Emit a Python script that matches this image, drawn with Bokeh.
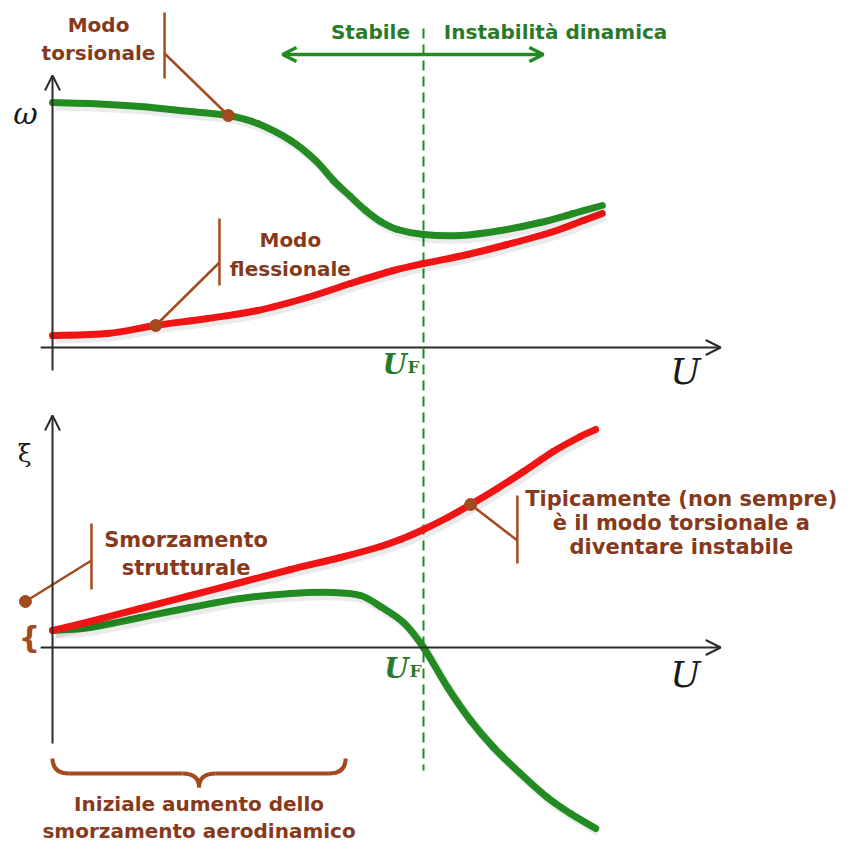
import numpy as np
from bokeh.plotting import figure
from bokeh.models import Range1d, Arrow, OpenHead
from bokeh.core.properties import value
from bokeh.embed import file_html
from bokeh.resources import INLINE

# ---------------------------------------------------------------
# Flutter diagram: frequencies (top) and damping (bottom) vs wind
# speed U, with U normalised so that the flutter speed U_F = 1.
# ---------------------------------------------------------------
U_F = 1.0

# top panel: natural circular frequency omega of the two modes
u_tors = [0.000, 0.102, 0.237, 0.372, 0.474, 0.553, 0.642, 0.709, 0.757, 0.803,
          0.844, 0.884, 0.930, 1.000, 1.100, 1.208, 1.315, 1.404, 1.482]
w_tors = [2.45, 2.44, 2.41, 2.36, 2.32, 2.24, 2.07, 1.87, 1.67, 1.51,
          1.37, 1.26, 1.18, 1.13, 1.12, 1.17, 1.25, 1.34, 1.42]

u_flex = [0.000, 0.148, 0.278, 0.418, 0.553, 0.687, 0.803, 0.919, 1.000,
          1.119, 1.226, 1.342, 1.431, 1.482]
w_flex = [0.12, 0.14, 0.22, 0.29, 0.37, 0.50, 0.64, 0.77, 0.84,
          0.93, 1.03, 1.15, 1.27, 1.34]

# bottom panel: damping ratio xi of the two branches
u_xi_red = [0.000, 0.102, 0.237, 0.372, 0.507, 0.642, 0.776, 0.884, 0.938,
            1.000, 1.065, 1.127, 1.199, 1.270, 1.350, 1.423, 1.464]
xi_red = [0.17, 0.26, 0.39, 0.52, 0.65, 0.78, 0.90, 1.01, 1.08,
          1.18, 1.30, 1.43, 1.59, 1.76, 1.96, 2.11, 2.18]

u_xi_green = [0.000, 0.102, 0.237, 0.372, 0.507, 0.642, 0.757, 0.830, 0.884,
              0.946, 1.000, 1.065, 1.127, 1.189, 1.261, 1.334, 1.396, 1.464]
xi_green = [0.17, 0.20, 0.30, 0.40, 0.49, 0.54, 0.55, 0.52, 0.41,
            0.25, 0.00, -0.40, -0.73, -1.00, -1.26, -1.50, -1.66, -1.81]

# ---------------------------------------------------------------
GREEN = "#228b22"
RED = "#f01414"
BROWN_TXT = "#863a1c"
BROWN = "#a34a1f"
GREEN_TXT = "#2a7a2a"
AXIS = "#2b2b2b"
SANS = value("DejaVu Sans")
SERIF = value("DejaVu Serif")

p = figure(width=851, height=849,
           x_range=Range1d(-0.1402, 2.1536), y_range=Range1d(-5.02, 3.47),
           output_backend="svg", toolbar_location=None,
           x_axis_location=None, y_axis_location=None, min_border=0)
p.extra_y_ranges = {"xi": Range1d(-2.02, 6.47)}
p.grid.visible = False
p.outline_line_color = None
p.background_fill_color = "white"
p.border_fill_color = "white"


def arrow(x0, y0, x1, y1, rng="default", color=AXIS, width=2, size=15, both=False):
    head = dict(size=size, line_width=width, line_color=color)
    a = Arrow(x_start=x0, y_start=y0, x_end=x1, y_end=y1,
              end=OpenHead(**head), start=OpenHead(**head) if both else None,
              line_color=color, line_width=width, y_range_name=rng)
    p.add_layout(a)


def label(x, y, lines, rng="default", size="20px", color=BROWN_TXT,
          font=SANS, style="bold", align="center", step=0.0):
    ys = [y - i * step for i in range(len(lines))]
    p.text(x=[x] * len(lines), y=ys, text=lines, text_font=font,
           text_font_size=size, text_font_style=style, text_color=color,
           text_align=align, text_baseline="alphabetic", y_range_name=rng)


def smooth_path(u, v, rng, cap="round", **kw):
    """Draw a smooth path through the points (Catmull-Rom as cubic Beziers)."""
    P = np.column_stack([np.asarray(u, float), np.asarray(v, float)])
    Q = np.vstack([P[:1], P, P[-1:]])
    p0, p1, p2, p3 = Q[:-3], Q[1:-2], Q[2:-1], Q[3:]
    c0 = p1 + (p2 - p0) / 6.0
    c1 = p2 - (p3 - p1) / 6.0
    p.bezier(x0=p1[:, 0], y0=p1[:, 1], x1=p2[:, 0], y1=p2[:, 1],
             cx0=c0[:, 0], cy0=c0[:, 1], cx1=c1[:, 0], cy1=c1[:, 1],
             line_cap=cap, y_range_name=rng, **kw)


def curve(u, v, color, rng="default"):
    u = np.asarray(u, float)
    v = np.asarray(v, float)
    # soft drop shadow under each curve (butt caps so pieces do not overlap)
    smooth_path(u + 0.008, v - 0.035, rng, cap="butt", line_width=9,
                line_color="black", line_alpha=0.08)
    smooth_path(u, v, rng, line_width=7, line_color=color)


def leader(xbar, ybar0, ybar1, yjoin, xdot, ydot, rng="default"):
    p.segment(x0=[xbar, xbar], y0=[ybar0, yjoin], x1=[xbar, xdot], y1=[ybar1, ydot],
              line_width=2.5, color=BROWN, y_range_name=rng)
    p.scatter([xdot], [ydot], size=12, color=BROWN, y_range_name=rng)


# ---------------- flutter speed line ----------------
p.segment(x0=[U_F], y0=[3.19], x1=[U_F], y1=[-4.23], line_width=2,
          color=GREEN, line_dash="10 6")

# ---------------- top panel: omega ----------------
arrow(-0.032, 0.0, 1.801, 0.0)
arrow(0.0, -0.23, 0.0, 2.72)
curve(u_flex, w_flex, RED)
curve(u_tors, w_tors, GREEN)

label(-0.073, 2.34, ["ω"], size="30px", color="#1a1a1a", font=SERIF, style="italic")
label(1.706, -0.24, ["U"], size="36px", color="#1a1a1a", font=SERIF, style="italic")
label(0.955, -0.17, ["U"], size="28px", color=GREEN_TXT, font=SERIF,
      style="bold italic", align="right")
label(0.957, -0.19, ["F"], size="17px", color=GREEN_TXT, font=SERIF,
      style="bold", align="left")

# stable / unstable regions
arrow(0.620, 2.93, 1.323, 2.93, color=GREEN, width=3.5, size=14, both=True)
label(0.857, 3.16, ["Stabile"], color=GREEN_TXT)
label(1.356, 3.16, ["Instabilità dinamica"], color=GREEN_TXT)

# mode annotations
i_t = u_tors.index(0.474)
label(0.124, 3.23, ["Modo", "torsionale"], step=0.28)
leader(0.302, 3.35, 2.69, 2.94, u_tors[i_t], w_tors[i_t])

i_f = u_flex.index(0.278)
label(0.641, 1.08, ["Modo", "flessionale"], step=0.29)
leader(0.450, 1.29, 0.62, 0.85, u_flex[i_f], w_flex[i_f])

# ---------------- bottom panel: xi ----------------
arrow(-0.032, 0.0, 1.801, 0.0, rng="xi")
arrow(0.0, -0.96, 0.0, 2.32, rng="xi")
curve(u_xi_green, xi_green, GREEN, rng="xi")
curve(u_xi_red, xi_red, RED, rng="xi")

label(-0.075, 1.94, ["ξ"], rng="xi", size="25px", color="#1a1a1a", font=SERIF,
      style="normal")
label(1.706, -0.27, ["U"], rng="xi", size="36px", color="#1a1a1a", font=SERIF,
      style="italic")
label(0.960, -0.21, ["U"], rng="xi", size="28px", color=GREEN_TXT, font=SERIF,
      style="bold italic", align="right")
label(0.962, -0.23, ["F"], rng="xi", size="17px", color=GREEN_TXT, font=SERIF,
      style="bold", align="left")

# structural damping at U = 0
label(-0.062, 0.10, ["{"], rng="xi", size="30px", color=BROWN, style="bold")
label(0.360, 1.08, ["Smorzamento", "strutturale"], rng="xi", size="21px", step=0.28)
leader(0.105, 1.24, 0.58, 0.87, -0.073, 0.46, rng="xi")

# torsional mode note
i_r = u_xi_red.index(1.127)
label(1.695, 1.49, ["Tipicamente (non sempre)", "è il modo torsionale a",
                    "diventare instabile"], rng="xi", size="21px", step=0.24)
leader(1.253, 1.52, 0.84, 1.07, u_xi_red[i_r], xi_red[i_r], rng="xi")

# brace under the initial rise of the green damping branch
b0, b1 = 0.0, 0.79
bm = 0.5 * (b0 + b1)
yt, yh, yp = -1.11, -1.26, -1.40
r = 0.045
p.quadratic(x0=[b0, bm - r, bm, b1 - r], y0=[yt, yh, yp, yh],
            x1=[b0 + r, bm, bm + r, b1], y1=[yh, yp, yh, yt],
            cx=[b0, bm, bm, b1], cy=[yh, yh, yh, yh],
            line_width=4, line_color=BROWN, y_range_name="xi")
p.segment(x0=[b0 + r, bm + r], y0=[yh, yh], x1=[bm - r, b1 - r], y1=[yh, yh],
          line_width=4, line_color=BROWN, y_range_name="xi")
label(bm, -1.56, ["Iniziale aumento dello", "smorzamento aerodinamico"],
      rng="xi", size="20px", step=0.27)

open("out.html", "w").write(file_html(p, INLINE))
